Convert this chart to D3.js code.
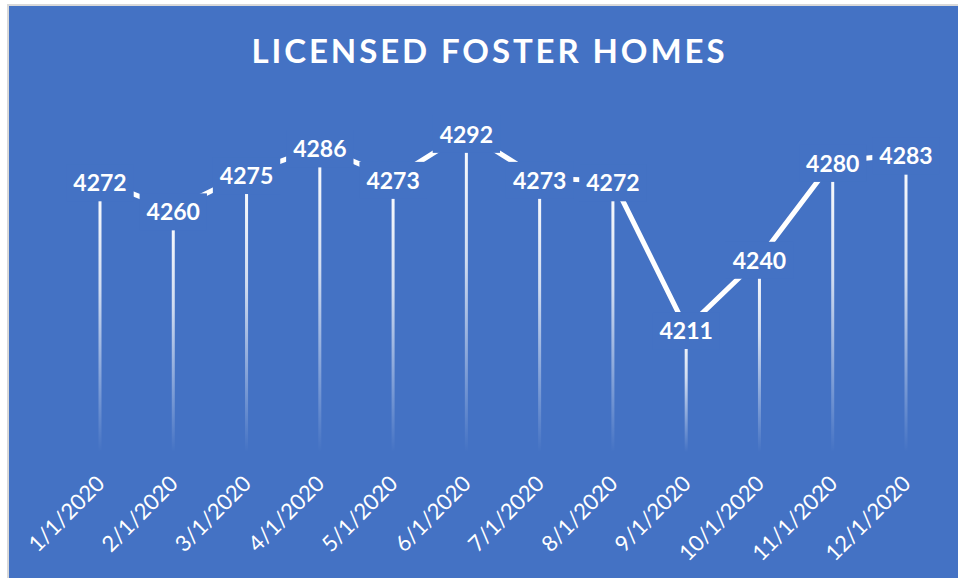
<!DOCTYPE html>
<html>
<head>
<meta charset="utf-8">
<script src="https://cdn.jsdelivr.net/npm/d3@7"></script>
<style>
  body { margin: 0; background: #fff; }
  svg { display: block; }
</style>
</head>
<body>
<svg id="chart"></svg>
<script>
const months = ["1/1/2020", "2/1/2020", "3/1/2020", "4/1/2020", "5/1/2020", "6/1/2020",
  "7/1/2020", "8/1/2020", "9/1/2020", "10/1/2020", "11/1/2020", "12/1/2020"];
const fosterHomes = [4272, 4260, 4275, 4286, 4273, 4292, 4273, 4272, 4211, 4240, 4280, 4283];
const yDomain = [4160, 4300];
const titleText = "LICENSED FOSTER HOMES";

const width = 958;
const height = 578;
const blue = "#4472C4";

const data = months.map((m, i) => ({ month: m, value: fosterHomes[i] }));

const svg = d3.select("#chart").attr("width", width).attr("height", height);

// frame + background
svg.append("rect").attr("x", 7).attr("y", 4).attr("width", width).attr("height", height).attr("fill", "#d9d9d9");
svg.append("rect").attr("x", 9).attr("y", 6).attr("width", width).attr("height", height).attr("fill", blue);

const x = d3.scalePoint().domain(months).range([100, 906]);
const y = d3.scaleLinear().domain(yDomain).range([452, 113]);

// gradient for drop lines (white at top, fading out at the axis)
const defs = svg.append("defs");
const grad = defs.append("linearGradient")
  .attr("id", "dropFade")
  .attr("x1", 0).attr("y1", 0).attr("x2", 0).attr("y2", 1);
grad.append("stop").attr("offset", "0%").attr("stop-color", "#fff").attr("stop-opacity", 1);
grad.append("stop").attr("offset", "40%").attr("stop-color", "#fff").attr("stop-opacity", 0.75);
grad.append("stop").attr("offset", "100%").attr("stop-color", "#fff").attr("stop-opacity", 0);

// title
svg.append("text")
  .text(titleText)
  .attr("x", 488)
  .attr("y", 62.5)
  .attr("text-anchor", "middle")
  .attr("textLength", 473)
  .attr("lengthAdjust", "spacing")
  .style("font-family", "Lato, 'Open Sans', sans-serif")
  .style("font-weight", "bold")
  .style("font-size", "33px")
  .style("fill", "#fff");

// drop lines
svg.append("g")
  .selectAll("rect")
  .data(data)
  .join("rect")
  .attr("x", (d) => x(d.month) - 1.5)
  .attr("y", (d) => y(d.value))
  .attr("width", 3)
  .attr("height", (d) => y(yDomain[0]) - y(d.value))
  .attr("fill", "url(#dropFade)");

// the line
const line = d3.line()
  .x((d) => x(d.month))
  .y((d) => y(d.value));

svg.append("path")
  .datum(data)
  .attr("d", line)
  .attr("fill", "none")
  .attr("stroke", "#fff")
  .attr("stroke-width", 5);

// data labels with background boxes
const labels = svg.append("g")
  .selectAll("g")
  .data(data)
  .join("g")
  .attr("transform", (d) => `translate(${x(d.month)},${y(d.value)})`);

labels.append("rect").attr("fill", blue);

labels.append("text")
  .text((d) => d.value)
  .attr("text-anchor", "middle")
  .attr("y", 10.3)
  .style("font-family", "Lato, 'Open Sans', sans-serif")
  .style("font-weight", "bold")
  .style("font-size", "23px")
  .style("fill", "#fff");

labels.each(function () {
  const g = d3.select(this);
  const bb = g.select("text").node().getBBox();
  g.select("rect")
    .attr("x", bb.x - 7)
    .attr("width", bb.width + 14)
    .attr("y", -16.5)
    .attr("height", 37);
});

// x axis labels
svg.append("g")
  .selectAll("text")
  .data(months)
  .join("text")
  .text((d) => d)
  .attr("transform", (d) => `translate(${x(d) + 6},${485}) rotate(-45)`)
  .attr("text-anchor", "end")
  .style("font-family", "Lato, 'Open Sans', sans-serif")
  .style("font-size", "22px")
  .style("fill", "#fff");
</script>
</body>
</html>
